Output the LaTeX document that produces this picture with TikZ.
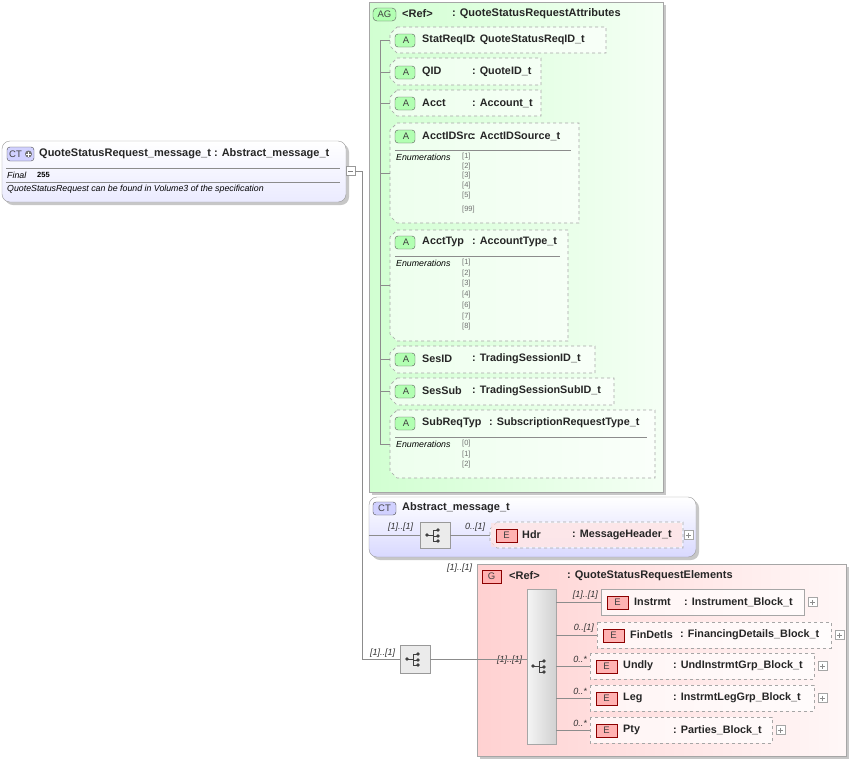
\documentclass[tikz,border=0pt]{standalone}
\usepackage{fontspec}
\setmainfont{Liberation Sans}
\begin{document}
\begin{tikzpicture}[x=1pt,y=-1pt,
  lbl/.style={font=\fontsize{10.8}{12}\selectfont\bfseries,anchor=west,inner sep=0pt,text=black!85},
  ttl/.style={font=\fontsize{11}{12}\selectfont\bfseries,anchor=west,inner sep=0pt,text=black!85},
  card/.style={font=\fontsize{9}{10}\selectfont\itshape,anchor=west,inner sep=0pt,text=black!80},
  enm/.style={font=\fontsize{7.5}{8}\selectfont,anchor=west,inner sep=0pt,text=black!55},
  enh/.style={font=\fontsize{8.8}{10}\selectfont\itshape,anchor=west,inner sep=0pt},
  bdg/.style={font=\fontsize{9.5}{10}\selectfont,text=black!75},
  conn/.style={draw=black!45,line width=0.6pt},
  dbox/.style={draw=black!35,dashed,line width=0.7pt},
  shad/.style={fill=black!22,draw=none}]
\useasboundingbox (0,0) rectangle (851,761);
\newcommand{\abadge}[2]{\draw[fill=green!30!white,draw=black!65,rounded corners=3pt] (#1,#2-6) rectangle (#1+20,#2+7);
  \node[bdg] at (#1+11,#2+0.5) {A};}
\newcommand{\ebadge}[2]{\draw[fill=red!30!white,draw=red!55!black] (#1,#2-6) rectangle (#1+21,#2+7);
  \node[bdg] at (#1+10.5,#2+0.5) {E};}
\newcommand{\plusbox}[2]{\draw[draw=black!35,fill=white] (#1,#2-4.5) rectangle (#1+9,#2+4.5);
  \draw[black!45] (#1+2,#2) -- (#1+7,#2) (#1+4.5,#2-2.5) -- (#1+4.5,#2+2.5);}
\newcommand{\chbox}[4]{\draw[dbox,fill=white,fill opacity=0.6] (#1+7,#2) -- (#3,#2) -- (#3,#4) -- (#1+7,#4) -- (#1,#4-7) -- (#1,#2+7) -- cycle;}
\newcommand{\seqicon}[2]{\fill[black!75] (#1-6,#2) circle (1.8pt); \draw[black!75,line width=0.8pt] (#1-6,#2) -- (#1,#2) (#1,#2-5) -- (#1,#2+6) (#1,#2-5) -- (#1+5,#2-5) (#1,#2+1) -- (#1+5,#2+1) (#1,#2+6) -- (#1+5,#2+6);
  \fill[black!75] (#1+5,#2-5) circle (1.8pt) (#1+5,#2+1) circle (1.8pt) (#1+5,#2+6) circle (1.8pt);}

% main CT
\fill[shad,rounded corners=8pt] (5,144) rectangle (349,205);
\draw[black!40,rounded corners=8pt,top color=white,bottom color=blue!8] (2,141) rectangle (346,202);
\draw[fill=blue!18,draw=black!70,rounded corners=3pt] (7,147) rectangle (34,161);
\node[bdg,anchor=west,inner sep=0pt] at (9,154) {CT};
\fill[black!55] (28.5,154) circle (3.5pt);
\draw[white,line width=1pt] (26,154) -- (31,154) (28.5,151.5) -- (28.5,156.5);
\node[ttl] (main) at (39,154) {QuoteStatusRequest\_message\_t : Abstract\_message\_t};
\draw[black!45] (6,168) -- (340,168) (6,182) -- (340,182);
\node[enh] at (7,175) {Final};
\node[font=\fontsize{7.5}{8}\selectfont\bfseries,anchor=west,inner sep=0pt] at (37,175) {255};
\node[enh] at (7,189) {QuoteStatusRequest can be found in Volume3 of the specification};
\draw[draw=black!40,fill=white] (346,166.5) rectangle (355,175.5);
\draw[black!50] (348,171) -- (353,171);
\coordinate (tr0) at (355,171);
\coordinate (tr1) at (362,171);
\coordinate (tr2) at (362,659);
\draw[conn] (tr0) -- (tr1) -- (tr2);

% AG box
\fill[shad] (372,5) rectangle (666,495);
\draw[black!35,left color=green!18,right color=green!4] (369,2) rectangle (663,492);
\draw[fill=green!30!white,draw=black!65,rounded corners=4pt] (373,8) rectangle (396,21);
\node[bdg] at (384.5,14.5) {AG};
\node[ttl] (ag) at (402,14) {\textless Ref\textgreater};
\node[ttl] at (452,14) {: QuoteStatusRequestAttributes};
\draw[conn] (380,40) -- (380,444);
% attributes
\chbox{390}{27}{606}{53}\abadge{395}{40}\node[lbl] (a1) at (422,40) {StatReqID}; \node[lbl] at (472,40) {: QuoteStatusReqID\_t};
\chbox{390}{58}{541}{85}\abadge{395}{72}\node[lbl] (a2) at (422,72) {QID}; \node[lbl] at (472,72) {: QuoteID\_t};
\chbox{390}{90}{541}{116}\abadge{395}{103}\node[lbl] (a3) at (422,103) {Acct}; \node[lbl] at (472,103) {: Account\_t};
\chbox{390}{123}{579}{223}\abadge{395}{136}\node[lbl] (a4) at (422,136) {AcctIDSrc}; \node[lbl] at (472,136) {: AcctIDSource\_t};
\draw[black!45] (395,150) -- (571,150);
\node[enh] at (396,157) {Enumerations};
\foreach \v/\y in {1/157,2/166.5,3/176,4/186,5/196,99/210}{\node[enm] at (462,\y) {[\v]};}
\chbox{390}{230}{568}{341}\abadge{395}{242}\node[lbl] (a5) at (422,242) {AcctTyp}; \node[lbl] at (472,242) {: AccountType\_t};
\draw[black!45] (395,256) -- (560,256);
\node[enh] at (396,263) {Enumerations};
\foreach \v/\y in {1/263,2/273.5,3/284,4/295,6/306,7/316.5,8/327}{\node[enm] at (462,\y) {[\v]};}
\chbox{390}{346}{595}{373}\abadge{395}{359}\node[lbl] (a6) at (422,359) {SesID}; \node[lbl] at (472,359) {: TradingSessionID\_t};
\chbox{390}{378}{614}{405}\abadge{395}{391}\node[lbl] (a7) at (422,391) {SesSub}; \node[lbl] at (472,391) {: TradingSessionSubID\_t};
\chbox{390}{410}{655}{478}\abadge{395}{423}\node[lbl] (a8) at (422,423) {SubReqTyp}; \node[lbl] at (489,423) {: SubscriptionRequestType\_t};
\draw[black!45] (395,437) -- (647,437);
\node[enh] at (396,444) {Enumerations};
\foreach \v/\y in {0/444,1/454.5,2/465}{\node[enm] at (462,\y) {[\v]};}
\foreach \y in {40,72,103,173,285,359,391,444}{\draw[conn] (380,\y) -- (390,\y);}

% Abstract CT
\fill[shad,rounded corners=8pt] (372,500) rectangle (699,560);
\draw[black!40,rounded corners=8pt,top color=white,bottom color=blue!15] (369,497) rectangle (696,557);
\draw[fill=blue!18,draw=black!70,rounded corners=3pt] (373,502) rectangle (396,515);
\node[bdg] at (384.5,508.5) {CT};
\node[ttl] (act) at (402,508) {Abstract\_message\_t};
\node[card] at (388,527) {[1]..[1]};
\node[card] at (465,527) {0..[1]};
\node[draw=black!40,fill=black!8,minimum width=30pt,minimum height=26pt,inner sep=0pt] (s1) at (435,535) {};
\seqicon{433}{535}
\coordinate (s1in) at (369,535);
\draw[conn] (s1in) -- (s1.west);
\chbox{490}{522}{683}{548}
\coordinate (hdr) at (490,535);
\fill[red!12,opacity=0.7] (491,523) rectangle (682,547);
\ebadge{496}{535}\node[lbl] at (522,535) {Hdr}; \node[lbl] at (572,535) {: MessageHeader\_t};
\draw[conn] (s1.east) -- (hdr);
\plusbox{684}{535}

% bottom sequence
\node[draw=black!40,fill=black!8,minimum width=30pt,minimum height=28pt,inner sep=0pt] (s2) at (415,659) {};
\seqicon{413}{659}
\node[card] at (370,653) {[1]..[1]};
\draw[conn] (tr2) -- (s2.west);
% G box
\fill[shad] (480,567) rectangle (849,759);
\draw[black!35,left color=red!18,right color=red!3] (477,564) rectangle (846,756);
\node[card] at (447,568) {[1]..[1]};
\draw[fill=red!30!white,draw=red!55!black] (482,570) rectangle (501,583);
\node[bdg] at (491.5,576.5) {G};
\node[ttl] (g) at (509,576) {\textless Ref\textgreater};
\node[ttl] at (567,576) {: QuoteStatusRequestElements};
\node[draw=black!35,left color=black!4,right color=black!18,minimum width=29pt,minimum height=155pt,inner sep=0pt] (s3) at (541.5,666.5) {};
\seqicon{539}{666}
\node[card] at (497,660) {[1]..[1]};
\draw[conn] (s2.east) -- (s3.west |- s2.east);
% elements
\newcommand{\elem}[8]{%
  \ifnum#4=1 \draw[black!35,fill=white,fill opacity=0.7,line width=0.7pt] (#1,#3-13) rectangle (#2,#3+13);
  \else \draw[dbox,fill=white,fill opacity=0.7] (#1,#3-13) rectangle (#2,#3+13);\fi
  \ebadge{#1+6}{#3}\node[lbl] at (#1+33,#3) {#5}; \node[lbl] at (#6,#3) {#7};
  \draw[conn] (556,#3) -- (#1,#3);
  \node[card,anchor=east] at (#1-3,#3-7) {#8};
  \plusbox{#2+4}{#3}}
\elem{601}{804}{602}{1}{Instrmt}{684}{: Instrument\_Block\_t}{[1]..[1]}
\elem{597}{831}{635}{0}{FinDetls}{680}{: FinancingDetails\_Block\_t}{0..[1]}
\elem{590}{814}{666}{0}{Undly}{673}{: UndInstrmtGrp\_Block\_t}{0..*}
\elem{590}{814}{698}{0}{Leg}{673}{: InstrmtLegGrp\_Block\_t}{0..*}
\elem{590}{772}{730}{0}{Pty}{673}{: Parties\_Block\_t}{0..*}
\end{tikzpicture}
\end{document}
